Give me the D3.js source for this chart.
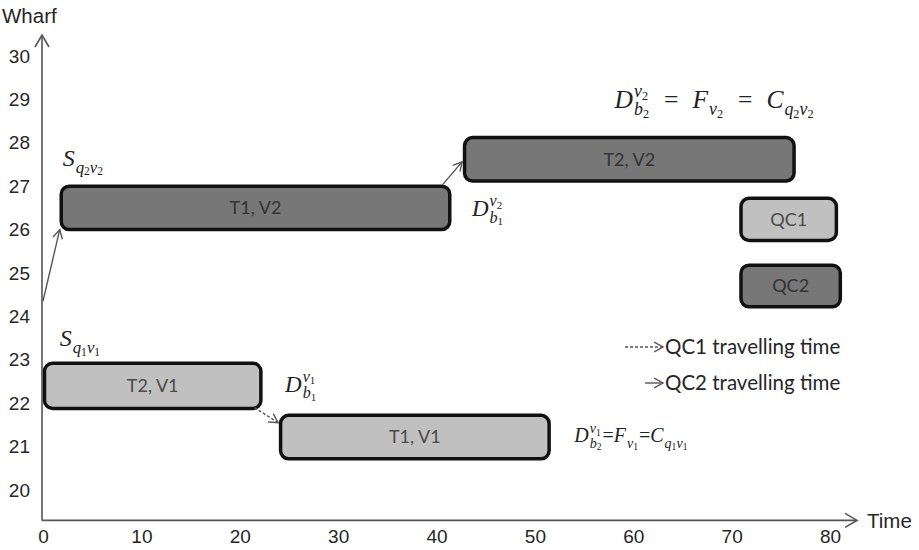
<!DOCTYPE html>
<html>
<head>
<meta charset="utf-8">
<script src="https://cdn.jsdelivr.net/npm/d3@7"></script>
<style>
  html, body { margin: 0; padding: 0; background: #fff; }
  svg { display: block; }
</style>
</head>
<body>
<svg id="chart" width="919" height="550"></svg>
<script>
// ---------- data ----------
const xTicks = [0, 10, 20, 30, 40, 50, 60, 70, 80];
const yTicks = [20, 21, 22, 23, 24, 25, 26, 27, 28, 29, 30];
const xTitle = "Time";
const yTitle = "Wharf";

const blockLabels = ["T2, V1", "T1, V1", "T1, V2", "T2, V2", "QC1", "QC2"];
const blockCrane  = ["QC1", "QC1", "QC2", "QC2", "QC1", "QC2"];
const blockStart  = [0, 24.0, 1.7, 42.7, 70.8, 70.8];
const blockEnd    = [22.3, 51.6, 41.5, 76.5, 80.8, 81.2];
const blockLow    = [21.88, 20.72, 26.0, 27.12, 25.75, 24.22];
const blockHigh   = [22.92, 21.72, 27.0, 28.12, 26.72, 25.18];

const moveCrane = ["QC2", "QC2", "QC1"];
const moveX0 = [0, 40.6, 21.5];
const moveY0 = [24.35, 27.03, 21.9];
const moveX1 = [1.7, 42.6, 23.9];
const moveY1 = [26.0, 27.56, 21.55];

const legendLabels = ["QC1 travelling time", "QC2 travelling time"];

// ---------- setup ----------
const svg = d3.select("#chart");
const x = d3.scaleLinear().domain([0, 80]).range([43, 830]);
const y = d3.scaleLinear().domain([20, 30]).range([490, 56]);
const craneFill = { QC1: "#c0c0c0", QC2: "#777777" };
const craneText = { QC1: "#4a4a4a", QC2: "#333333" };
const axisColor = "#555";

// ---------- axes ----------
const xAxis = svg.append("g")
  .attr("transform", `translate(0,${y(19.3)})`)
  .call(d3.axisBottom(x).tickValues(xTicks).tickSize(0).tickPadding(9).tickFormat(d3.format("d")));
const yAxis = svg.append("g")
  .attr("transform", `translate(${x(0) - 1},0)`)
  .call(d3.axisLeft(y).tickValues(yTicks).tickSize(0).tickPadding(12).tickFormat(d3.format("d")));
[xAxis, yAxis].forEach(a => {
  a.select(".domain").remove();
  a.selectAll("text").attr("font-family", "Liberation Sans, Arial, sans-serif")
    .attr("font-size", 19).attr("fill", "#262626");
});

// axis lines with open arrowheads
const ax0 = x(0) - 1, ay0 = y(19.3);
const axTop = 35, axRight = 857;
const axG = svg.append("g").attr("stroke", axisColor).attr("stroke-width", 1.6).attr("fill", "none");
axG.append("line").attr("x1", ax0).attr("y1", ay0).attr("x2", ax0).attr("y2", axTop);
axG.append("polyline").attr("points", `${ax0 - 7},${axTop + 12} ${ax0},${axTop} ${ax0 + 7},${axTop + 12}`);
axG.append("line").attr("x1", ax0).attr("y1", ay0).attr("x2", axRight).attr("y2", ay0);
axG.append("polyline").attr("points", `${axRight - 12},${ay0 - 7} ${axRight},${ay0} ${axRight - 12},${ay0 + 7}`);

svg.append("text").attr("x", 2).attr("y", 23).text(yTitle)
  .attr("font-family", "Liberation Sans, Arial, sans-serif").attr("font-size", 20.5).attr("fill", "#262626");
svg.append("text").attr("x", 867).attr("y", ay0 + 8).text(xTitle)
  .attr("font-family", "Liberation Sans, Arial, sans-serif").attr("font-size", 20.5).attr("fill", "#262626");

// ---------- blocks ----------
const blocks = blockLabels.map((l, i) => ({
  label: l, crane: blockCrane[i], s: blockStart[i], e: blockEnd[i], lo: blockLow[i], hi: blockHigh[i]
}));
const bg = svg.append("g");
bg.selectAll("rect").data(blocks).join("rect")
  .attr("x", d => x(d.s) + 1.5)
  .attr("y", d => y(d.hi))
  .attr("width", d => x(d.e) - x(d.s) - 3)
  .attr("height", d => y(d.lo) - y(d.hi))
  .attr("rx", 8).attr("ry", 8)
  .attr("fill", d => craneFill[d.crane])
  .attr("stroke", "#111").attr("stroke-width", 3.5);
bg.selectAll("text").data(blocks).join("text")
  .attr("x", d => (x(d.s) + x(d.e)) / 2)
  .attr("y", d => (y(d.lo) + y(d.hi)) / 2)
  .attr("dy", "0.35em")
  .attr("text-anchor", "middle")
  .attr("font-family", "Lato, 'Open Sans', sans-serif")
  .attr("font-size", 18)
  .attr("fill", d => craneText[d.crane])
  .text(d => d.label);

// ---------- travel arrows ----------
function arrow(g, x0, y0, x1, y1, dashed) {
  g.append("line").attr("x1", x0).attr("y1", y0).attr("x2", x1).attr("y2", y1)
    .attr("stroke", "#555").attr("stroke-width", 1.4)
    .attr("stroke-dasharray", dashed ? "3,2" : null);
  const ang = Math.atan2(y1 - y0, x1 - x0);
  const L = 10, sp = 0.5;
  const p1 = [x1 - L * Math.cos(ang - sp), y1 - L * Math.sin(ang - sp)];
  const p2 = [x1 - L * Math.cos(ang + sp), y1 - L * Math.sin(ang + sp)];
  g.append("polyline").attr("points", `${p1} ${x1},${y1} ${p2}`)
    .attr("fill", "none").attr("stroke", "#555").attr("stroke-width", 1.4);
}
const mg = svg.append("g");
moveCrane.forEach((c, i) => {
  arrow(mg, x(moveX0[i]), y(moveY0[i]), x(moveX1[i]), y(moveY1[i]), c === "QC1");
});

// ---------- legend ----------
const lg = svg.append("g");
legendLabels.forEach((l, i) => {
  const ly = 347 + i * 36;
  const xStart = i === 0 ? 625 : 645;
  arrow(lg, xStart, ly, 663, ly, i === 0);
  lg.append("text").attr("x", 665).attr("y", ly).attr("dy", "0.35em").text(l)
    .attr("font-family", "Lato, 'Open Sans', sans-serif").attr("font-size", 20.5).attr("fill", "#262626");
});

// ---------- math annotations ----------
const serif = "'Liberation Serif', 'DejaVu Serif', serif";
function scriptText(g, px, py, arr, size) {
  const t = g.append("text").attr("x", px).attr("y", py).attr("font-family", serif).attr("fill", "#222");
  arr.forEach((s, k) => {
    const isDigit = k % 2 === 1;
    t.append("tspan")
      .attr("font-size", isDigit ? size * 0.48 : size * 0.7)
      .attr("font-style", isDigit ? "normal" : "italic")
      .attr("dy", isDigit ? size * 0.12 : (k > 0 ? -size * 0.12 : 0))
      .text(s);
  });
  return t.node().getComputedTextLength();
}
function mathLabel(px, py, parts, size, eqPad) {
  const g = svg.append("g");
  let cx = px;
  parts.forEach(p => {
    if (p.t !== undefined) {
      if (p.up) cx += eqPad;
      const t = g.append("text").attr("x", cx).attr("y", py)
        .attr("font-family", serif).attr("font-size", size).attr("fill", "#222")
        .attr("font-style", p.up ? "normal" : "italic")
        .text(p.t);
      cx += t.node().getComputedTextLength() + (p.up ? eqPad : 1);
    } else {
      let w = 0;
      if (p.sup) w = Math.max(w, scriptText(g, cx, py - size * 0.45, p.sup, size));
      if (p.sub) w = Math.max(w, scriptText(g, cx, py + size * 0.28, p.sub, size));
      cx += w + 1;
    }
  });
}
mathLabel(x(2.0), y(27.47), [{ t: "S" }, { sub: ["q", "2", "v", "2"] }], 24, 0);
mathLabel(x(1.7), y(23.32), [{ t: "S" }, { sub: ["q", "1", "v", "1"] }], 24, 0);
mathLabel(x(24.6), y(22.26), [{ t: "D" }, { sup: ["v", "1"], sub: ["b", "1"] }], 23, 0);
mathLabel(x(43.6), y(26.31), [{ t: "D" }, { sup: ["v", "2"], sub: ["b", "1"] }], 23, 0);
mathLabel(x(58.1), y(28.8), [
  { t: "D" }, { sup: ["v", "2"], sub: ["b", "2"] }, { t: "=", up: true },
  { t: "F" }, { sub: ["v", "2"] }, { t: "=", up: true },
  { t: "C" }, { sub: ["q", "2", "v", "2"] }
], 25.5, 14);
mathLabel(x(54.0), y(21.1), [
  { t: "D" }, { sup: ["v", "1"], sub: ["b", "2"] }, { t: "=", up: true },
  { t: "F" }, { sub: ["v", "1"] }, { t: "=", up: true },
  { t: "C" }, { sub: ["q", "1", "v", "1"] }
], 20, 0);
</script>
</body>
</html>
